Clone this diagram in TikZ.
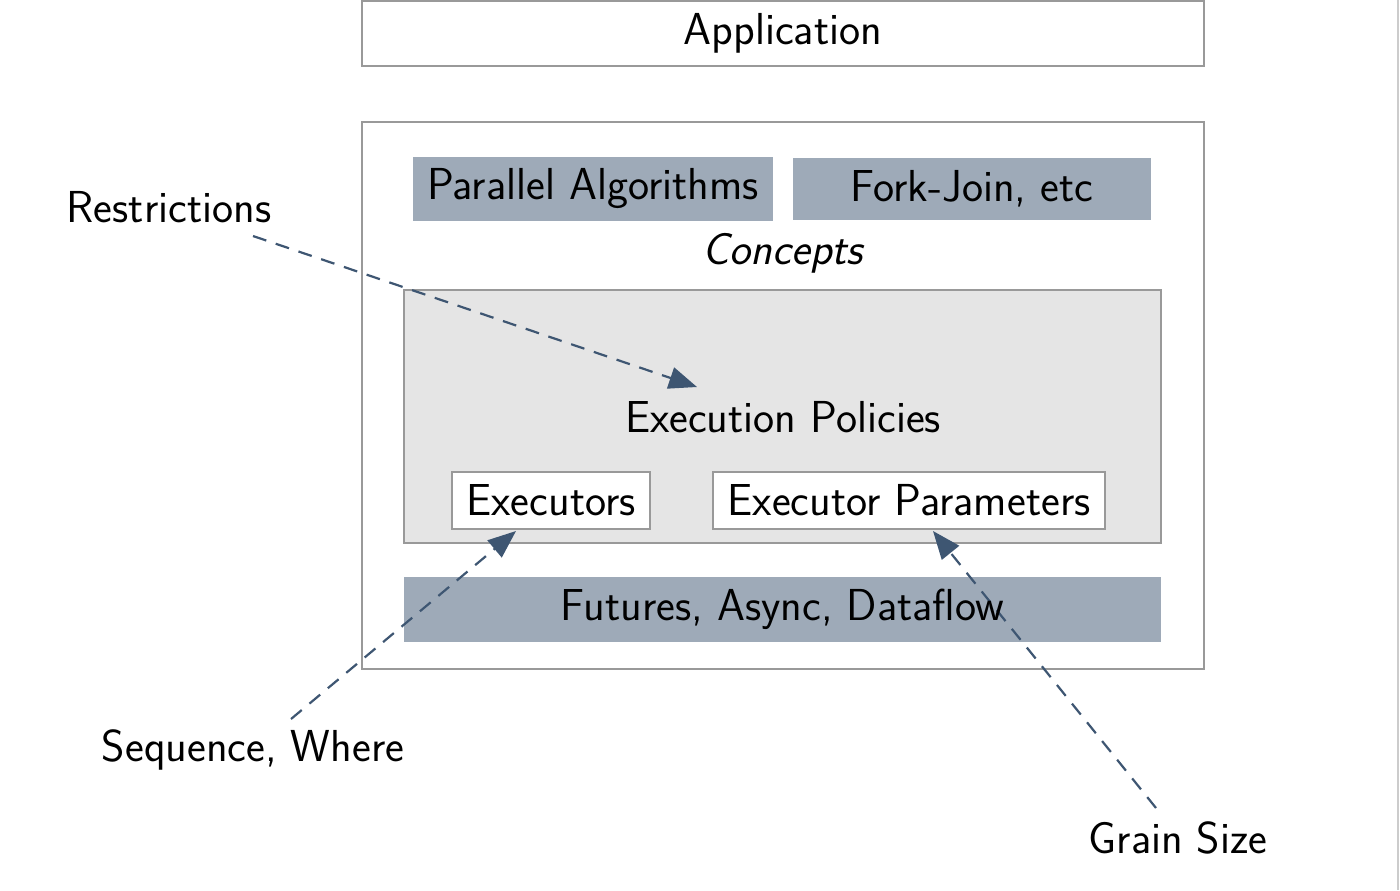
\documentclass[tikz,border=0pt]{standalone}
\usetikzlibrary{arrows.meta}
\definecolor{boxgray}{HTML}{999999}
\definecolor{slate}{HTML}{9EAAB8}
\definecolor{lightfill}{HTML}{E5E5E5}
\definecolor{arrowc}{HTML}{3E5672}
\begin{document}
\begin{tikzpicture}[x=0.5pt,y=-0.5pt,
  every node/.style={font=\sffamily\fontsize{22.4}{27}\selectfont, inner sep=0pt, outer sep=0pt},
  frame/.style={draw=boxgray, line width=1pt, fill=white},
  slatebox/.style={fill=slate, draw=none},
  policybox/.style={draw=boxgray, line width=1pt, fill=lightfill},
  hint/.style={draw=arrowc, line width=1.1pt, dash pattern=on 7pt off 5pt,
    -{Triangle[length=14pt,width=11pt,fill=arrowc]}},
  lbl/.style={text=black}]
\useasboundingbox (0,0) rectangle (1400,890);
\fill[white] (0,0) rectangle (1400,890);
\draw[draw=black!20, line width=1pt] (1398,0) -- (1398,890);
% application
\node[frame, minimum width=421pt, minimum height=32.5pt] (app) at (783,33.5) {Application};
% outer box
\node[frame, minimum width=421pt, minimum height=273.5pt] (outer) at (783,395.5) {};
\node[slatebox, minimum width=180pt, minimum height=32pt] (pa) at (593,189) {Parallel Algorithms};
\node[slatebox, minimum width=179pt, minimum height=31pt] (fj) at (972,189) {Fork-Join, etc};
\node (concepts) at (783,253) {\itshape Concepts};
\node[policybox, minimum width=378.5pt, minimum height=126.5pt] (pol) at (782.5,416.5) {};
\node (poltext) at (783,417) {Execution Policies};
\node[frame, minimum width=99pt, minimum height=28.5pt] (exec) at (551,500.5) {Executors};
\node[frame, minimum width=196pt, minimum height=28.5pt] (params) at (909,500.5) {Executor Parameters};
\node[slatebox, minimum width=378.5pt, minimum height=32.5pt] (fut) at (782.5,609.5) {};
% labels
\node (restr) at (169,207) {Restrictions};
\node (seq) at (253,750) {Sequence, Where};
\node (grain) at (1178,838) {Grain Size};
\coordinate (rs) at (253,236);
\coordinate (rt) at (697,387);
\coordinate (ss) at (291,719);
\coordinate (st) at (516,531);
\coordinate (gs) at (1156,808);
\coordinate (gt) at (933,531);
\draw[hint] (rs) -- (rt);
\draw[hint] (ss) -- (st);
\draw[hint] (gs) -- (gt);
\node at (fut.center) {Futures, Async, Dataflow};
\end{tikzpicture}
\end{document}
